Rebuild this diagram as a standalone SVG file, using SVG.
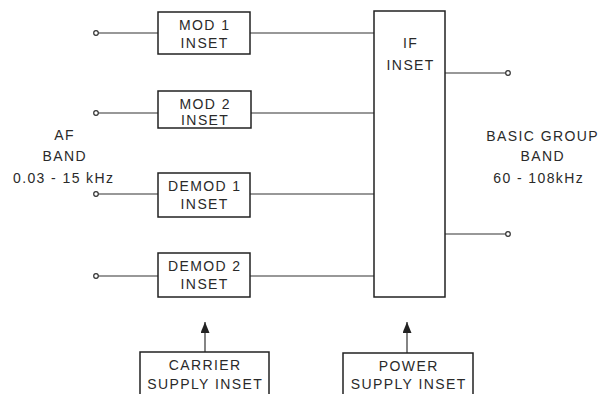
<svg xmlns="http://www.w3.org/2000/svg" width="613" height="394" viewBox="0 0 613 394">
<style>
.box{fill:none;stroke:#222;stroke-width:1.5}
.ln{fill:none;stroke:#333;stroke-width:1.2}
.term{fill:#fff;stroke:#333;stroke-width:1.2}
text{font-family:"Liberation Sans",Arial,sans-serif;font-size:14px;letter-spacing:1.4px;fill:#2a2a2a;text-anchor:middle}
</style>
<defs>
<marker id="arr" markerWidth="11" markerHeight="9" refX="11" refY="4.5" orient="auto" markerUnits="userSpaceOnUse" viewBox="0 0 11 9">
<path d="M0,0 L11,4.5 L0,9 Z" fill="#222"/>
</marker>
</defs>
<rect width="613" height="394" fill="#fff"/>
<g id="connectors">
<line class="ln" x1="96" y1="33" x2="158" y2="33"/>
<line class="ln" x1="250" y1="33" x2="374" y2="33"/>
<line class="ln" x1="96" y1="113" x2="158" y2="113"/>
<line class="ln" x1="251" y1="113" x2="374" y2="113"/>
<line class="ln" x1="96" y1="194" x2="158" y2="194"/>
<line class="ln" x1="250" y1="194" x2="374" y2="194"/>
<line class="ln" x1="96" y1="276" x2="158" y2="276"/>
<line class="ln" x1="250" y1="276" x2="374" y2="276"/>
<line class="ln" x1="445" y1="73" x2="507" y2="73"/>
<line class="ln" x1="445" y1="234" x2="507" y2="234"/>
<line class="ln" x1="205" y1="352" x2="205" y2="322" marker-end="url(#arr)"/>
<line class="ln" x1="407" y1="353" x2="407" y2="322" marker-end="url(#arr)"/>
<circle class="term" cx="96" cy="33" r="2.3"/>
<circle class="term" cx="96" cy="113" r="2.3"/>
<circle class="term" cx="96" cy="194" r="2.3"/>
<circle class="term" cx="96" cy="276" r="2.3"/>
<circle class="term" cx="508" cy="73" r="2.3"/>
<circle class="term" cx="508" cy="234" r="2.3"/>
</g>
<g id="mod1"><rect class="box" x="158" y="12" width="92" height="42"/><text x="204.7" y="30">MOD 1</text><text x="204.7" y="47.5">INSET</text></g>
<g id="mod2"><rect class="box" x="158" y="91" width="93" height="37"/><text x="205.2" y="108.5">MOD 2</text><text x="205.2" y="125">INSET</text></g>
<g id="demod1"><rect class="box" x="158" y="173" width="92" height="44"/><text x="204.7" y="190.5">DEMOD 1</text><text x="204.7" y="208.5">INSET</text></g>
<g id="demod2"><rect class="box" x="158" y="253" width="92" height="44"/><text x="204.7" y="270.5">DEMOD 2</text><text x="204.7" y="288.5">INSET</text></g>
<g id="if"><rect class="box" x="374" y="11" width="71" height="286"/><text x="410.7" y="48">IF</text><text x="410.7" y="70">INSET</text></g>
<g id="carrier"><path class="box" d="M140,396 V352 H269 V396"/><text x="205.2" y="370">CARRIER</text><text x="205.2" y="389">SUPPLY INSET</text></g>
<g id="power"><path class="box" d="M343,396 V353 H473 V396"/><text x="408.7" y="370.5">POWER</text><text x="408.7" y="389">SUPPLY INSET</text></g>
<g id="af-label"><text x="64.7" y="140">AF</text><text x="64.7" y="160.5">BAND</text><text x="63.7" y="183">0.03 - 15 kHz</text></g>
<g id="basic-label"><text x="542.7" y="140.5">BASIC GROUP</text><text x="542.7" y="161">BAND</text><text x="538.7" y="182.5">60 - 108kHz</text></g>
</svg>
